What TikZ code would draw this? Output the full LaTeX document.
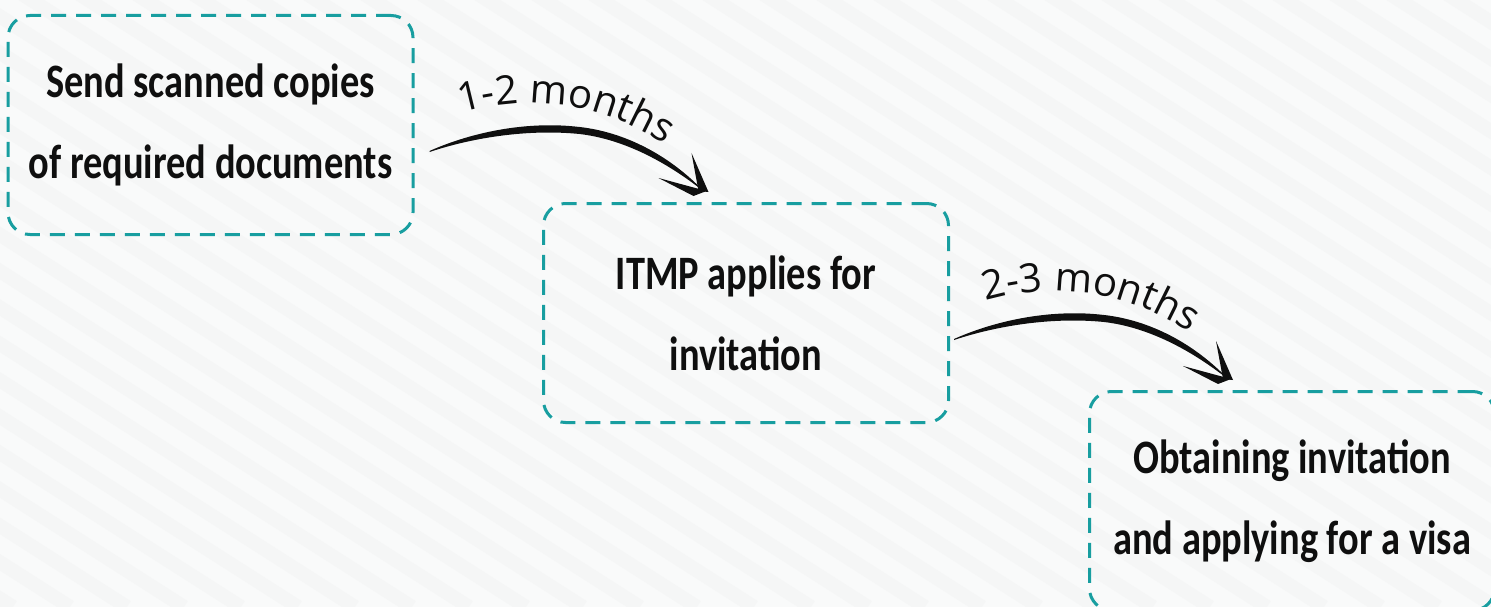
\documentclass[tikz,border=0pt]{standalone}
\usepackage{fontspec}
\usetikzlibrary{decorations.text,calc}
\newfontfamily\bodyfont[FakeStretch=0.8,BoldFont={Carlito Bold}]{Carlito}
\newfontfamily\handfont{Open Sans}
\definecolor{teal1}{RGB}{24,158,160}
\definecolor{bgcol}{RGB}{249,250,250}
\definecolor{stripecol}{RGB}{245,246,246}
\definecolor{ink}{RGB}{15,15,15}
\tikzset{
  stepbox/.style={draw=teal1, line width=3pt, dash pattern=on 15pt off 10pt,
    rounded corners=22pt, minimum width=405pt, minimum height=219pt,
    align=center, text=ink, font=\bodyfont\bfseries\fontsize{48}{81}\selectfont, inner sep=0pt},
  brush/.pic={
    \fill[ink] (0,0) .. controls (45,-20) and (100,-30) .. (150,-24)
      .. controls (195,-19) and (240,4) .. (275,41)
      .. controls (236,10) and (193,-12) .. (150,-17)
      .. controls (100,-22) and (45,-14) .. (0,1) -- cycle;
    \fill[ink] (262,2) -- (279,41) -- (269,40) -- cycle;
    \fill[ink] (229,27) -- (277,40) -- (264,45) -- cycle;
  },
  lbl/.style={decorate, decoration={text along path, text align=left,
    text={|\handfont\fontsize{40}{40}\selectfont\color{ink}|#1}}}
}
\begin{document}
\begin{tikzpicture}[x=1pt,y=-1pt]
\useasboundingbox (0,0) rectangle (1491,607);
\clip (0,0) rectangle (1491,607);
\fill[bgcol] (0,0) rectangle (1491,607);
\foreach \i in {-18,...,27}
  \draw[stripecol, line width=14pt] ({\i*57},-20) -- ++(982,627);

\node[stepbox] (b1) at (210.5,125) {Send scanned copies\\of required documents};
\node[stepbox] (b2) at (746,313) {ITMP applies for\\invitation};
\node[stepbox] (b3) at (1292,501) {Obtaining invitation\\and applying for a visa};

\coordinate (s1) at ($(b1.east)+(15,26)$);
\coordinate (s2) at ($(b2.east)+(4,26)$);
\pic at (s1) {brush};
\pic at (s2) {brush};

\path[lbl={1-2 months}] ($(s1)+(32,-38)$) .. controls ++(70,-20) and ++(-72,-50) .. ++(214,38);
\path[lbl={2-3 months}] ($(s2)+(32,-38)$) .. controls ++(70,-20) and ++(-72,-50) .. ++(214,38);
\end{tikzpicture}
\end{document}
